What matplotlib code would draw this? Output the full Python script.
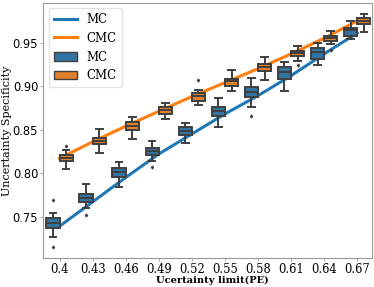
import matplotlib
matplotlib.use("Agg")
import matplotlib.pyplot as plt
from matplotlib.lines import Line2D
from matplotlib.patches import Patch
import numpy as np

# x categories
limits = ["0.4", "0.43", "0.46", "0.49", "0.52", "0.55", "0.58", "0.61", "0.64", "0.67"]

# mean lines
mc_mean = [0.739, 0.767, 0.795, 0.822, 0.845, 0.868, 0.889, 0.912, 0.937, 0.961]
cmc_mean = [0.817, 0.836, 0.854, 0.871, 0.888, 0.904, 0.920, 0.937, 0.955, 0.975]

# box stats MC: whislo, q1, med, q3, whishi
mc_whislo = [0.7266, 0.7600, 0.7845, 0.8144, 0.8343, 0.8527, 0.8764, 0.8948, 0.9243, 0.9538]
mc_q1     = [0.7366, 0.7665, 0.7960, 0.8209, 0.8439, 0.8657, 0.8872, 0.9082, 0.9312, 0.9580]
mc_med    = [0.7423, 0.7718, 0.8010, 0.8259, 0.8489, 0.8715, 0.8937, 0.9159, 0.9389, 0.9646]
mc_q3     = [0.7489, 0.7757, 0.8056, 0.8293, 0.8534, 0.8757, 0.8987, 0.9224, 0.9443, 0.9672]
mc_whishi = [0.7546, 0.7875, 0.8128, 0.8366, 0.8573, 0.8864, 0.9098, 0.9278, 0.9500, 0.9753]
mc_fliers = [[0.7692, 0.7155], [0.7519], [], [0.8075], [], [], [0.8657], [], [], []]

# box stats CMC
cmc_whislo = [0.8048, 0.8236, 0.8389, 0.8626, 0.8780, 0.8944, 0.9071, 0.9293, 0.9485, 0.9626]
cmc_q1     = [0.8140, 0.8331, 0.8496, 0.8676, 0.8830, 0.9006, 0.9178, 0.9347, 0.9523, 0.9715]
cmc_med    = [0.8174, 0.8370, 0.8546, 0.8726, 0.8891, 0.9059, 0.9224, 0.9385, 0.9557, 0.9753]
cmc_q3     = [0.8209, 0.8408, 0.8592, 0.8764, 0.8925, 0.9086, 0.9251, 0.9404, 0.9580, 0.9780]
cmc_whishi = [0.8266, 0.8504, 0.8649, 0.8807, 0.8956, 0.9182, 0.9335, 0.9458, 0.9634, 0.9830]
cmc_fliers = [[0.8316], [], [], [], [0.9071], [], [], [0.9243], [0.9416], []]

line_blue = "#1f77b4"
line_orange = "#ff7f0e"
box_blue = "#3274a1"
box_orange = "#e1812c"
edge = "#3f3f3f"


def make_stats(lo, q1, med, q3, hi, fl):
    return [dict(whislo=a, q1=b, med=c, q3=d, whishi=e, fliers=f)
            for a, b, c, d, e, f in zip(lo, q1, med, q3, hi, fl)]


fig = plt.figure(figsize=(3.74, 2.87), dpi=100)
ax = fig.add_axes([0.115, 0.101, 0.88, 0.889])

x = np.arange(len(limits))
ax.plot(x, mc_mean, color=line_blue, lw=2.2, zorder=1)
ax.plot(x, cmc_mean, color=line_orange, lw=2.2, zorder=1)

props = dict(patch_artist=True, widths=0.4, manage_ticks=False,
             boxprops=dict(edgecolor=edge, linewidth=1.4),
             medianprops=dict(color=edge, linewidth=1.4),
             whiskerprops=dict(color=edge, linewidth=1.4),
             capprops=dict(color=edge, linewidth=1.4),
             flierprops=dict(marker='d', markersize=1.5, markerfacecolor=edge,
                             markeredgecolor=edge))
b1 = ax.bxp(make_stats(mc_whislo, mc_q1, mc_med, mc_q3, mc_whishi, mc_fliers),
            positions=x - 0.2, **props)
b2 = ax.bxp(make_stats(cmc_whislo, cmc_q1, cmc_med, cmc_q3, cmc_whishi, cmc_fliers),
            positions=x + 0.2, **props)
for p in b1["boxes"]:
    p.set_facecolor(box_blue)
    p.set_zorder(2)
for p in b2["boxes"]:
    p.set_facecolor(box_orange)
    p.set_zorder(2)
for k in ["medians", "whiskers", "caps", "fliers"]:
    for a in b1[k] + b2[k]:
        a.set_zorder(3)

ax.set_xlim(-0.5, 9.45)
ax.set_ylim(0.7025, 0.9956)
ax.set_xticks(x)
ax.set_xticklabels(limits, family="DejaVu Serif", fontsize=8.3)
ax.set_yticks([0.75, 0.80, 0.85, 0.90, 0.95])
ax.set_yticklabels(["0.75", "0.80", "0.85", "0.90", "0.95"], fontsize=8.3)
ax.tick_params(length=2.5, width=0.6, color="#999999", pad=1.0)
for s in ax.spines.values():
    s.set_color("#999999")
    s.set_linewidth(0.8)

ax.set_xlabel("Ucertainty limit(PE)", family="DejaVu Serif", fontsize=7.1,
              fontweight="semibold")
ax.xaxis.set_label_coords(0.515, -0.07)
ax.xaxis.label.set_va("top")
ax.set_ylabel("Uncertainty Specificity", family="DejaVu Serif", fontsize=8.0)
ax.yaxis.set_label_coords(-0.125, 0.5)
ax.yaxis.label.set_va("top")

handles = [Line2D([], [], color=line_blue, lw=2.2),
           Line2D([], [], color=line_orange, lw=2.2),
           Patch(facecolor=box_blue, edgecolor=edge, linewidth=1.0),
           Patch(facecolor=box_orange, edgecolor=edge, linewidth=1.0)]
ax.legend(handles, ["MC", "CMC", "MC", "CMC"], loc="upper left",
          bbox_to_anchor=(0.018, 0.98), borderaxespad=0,
          prop=dict(family="DejaVu Serif", size=8.5), framealpha=0.8,
          edgecolor="#dddddd", borderpad=0.4, labelspacing=0.5,
          handlelength=2.0)

fig.savefig("out.png", dpi=100)
